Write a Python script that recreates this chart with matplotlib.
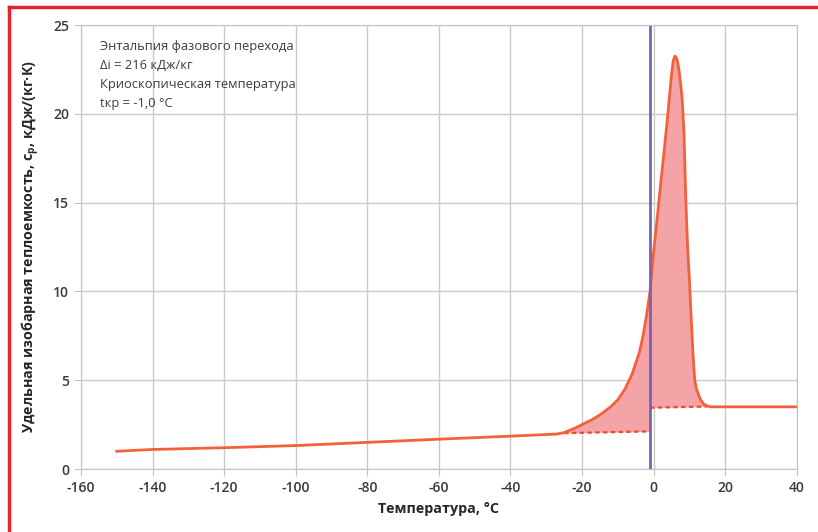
import matplotlib
matplotlib.use("Agg")
import matplotlib.pyplot as plt
import numpy as np
from matplotlib.lines import Line2D

plt.rcParams['font.family'] = ['Open Sans', 'DejaVu Sans']
plt.rcParams['axes.unicode_minus'] = False

# heat capacity curve, temperature in degC, cp in kJ/(kg*K)
temp = [-150, -140, -120, -100, -80, -60, -40, -27, -25, -22, -20, -17, -15,
        -12, -10, -8, -6, -4, -3, -2, -1, 0, 1, 2, 3, 4, 5, 5.5, 6, 6.5, 7,
        7.5, 8, 8.5, 9, 9.5, 10, 10.5, 11, 11.5, 12, 13, 14, 15, 16, 20, 30, 40]
cp = [1.0, 1.1, 1.2, 1.32, 1.5, 1.68, 1.85, 1.97, 2.05, 2.3, 2.5, 2.8, 3.05,
      3.5, 3.9, 4.5, 5.35, 6.55, 7.45, 8.6, 10.0, 12.2, 14.1, 16.1, 18.0,
      20.0, 22.2, 23.0, 23.25, 23.1, 22.6, 21.8, 20.8, 18.9, 15.2, 12.5, 10.7,
      8.5, 6.5, 5.0, 4.5, 3.95, 3.65, 3.55, 3.5, 3.5, 3.5, 3.5]

# sensible-heat baselines below and above the cryoscopic point
base_lo_t = [-25, -1]
base_lo_cp = [2.02, 2.12]
base_hi_t = [-1, 15]
base_hi_cp = [3.45, 3.52]

t_cr = -1.0

info = ["Энтальпия фазового перехода",
        "Δi = 216 кДж/кг",
        "Криоскопическая температура",
        "tкр = -1,0 °C"]

fig = plt.figure(figsize=(8.18, 5.32), dpi=100)
ax = fig.add_axes([0.099, 0.1184, 0.875, 0.8346])

t = np.array(temp)
c = np.array(cp)

# shaded latent heat area
m_lo = (t >= base_lo_t[0]) & (t <= base_lo_t[1])
ax.fill_between(t[m_lo], c[m_lo], np.interp(t[m_lo], base_lo_t, base_lo_cp),
                color="#f4a3a6", lw=0)
m_hi = (t >= base_hi_t[0]) & (t <= base_hi_t[1])
ax.fill_between(t[m_hi], c[m_hi], np.interp(t[m_hi], base_hi_t, base_hi_cp),
                color="#f4a3a6", lw=0)

ax.plot(base_lo_t, base_lo_cp, color="#ec4a2c", lw=1.6, ls=(0, (2, 1.5)))
ax.plot(base_hi_t, base_hi_cp, color="#ec4a2c", lw=1.6, ls=(0, (2, 1.5)))

ax.plot(t, c, color="#f2613a", lw=2)

ax.axvline(t_cr, color="#7464b4", lw=2)

ax.set_xlim(-160, 40)
ax.set_ylim(0, 25)
ax.set_xticks(np.arange(-160, 41, 20))
ax.set_yticks(np.arange(0, 26, 5))
ax.grid(True, color="#c9c9c9", lw=1)
ax.set_axisbelow(True)
for s in ax.spines.values():
    s.set_color("#c4c4c4")
ax.tick_params(colors="#c4c4c4", labelcolor="#3a3a3a", labelsize=10, length=5)
for lbl in ax.get_xticklabels() + ax.get_yticklabels():
    lbl.set_fontweight("semibold")

ax.set_xlabel("Температура, °C", fontsize=10.3, fontweight="bold",
              color="#262626", labelpad=5)
ax.set_ylabel("Удельная изобарная теплоемкость, c$_\\mathregular{p}$, кДж/(кг·К)",
              fontsize=10.3, fontweight="bold", color="#262626", labelpad=8)

for i, line in enumerate(info):
    ax.text(0.027, 0.967 - i * 0.043, line, transform=ax.transAxes,
            fontsize=9.3, color="#3c3c3c", va="top")

# red frame on the figure
fig.add_artist(Line2D([0.011, 0.011], [0.0, 0.987], color="#e0262c", lw=2.5,
                      transform=fig.transFigure))
fig.add_artist(Line2D([0.011, 1.0], [0.987, 0.987], color="#e0262c", lw=2.5,
                      transform=fig.transFigure))

fig.savefig("out.png", dpi=100)
